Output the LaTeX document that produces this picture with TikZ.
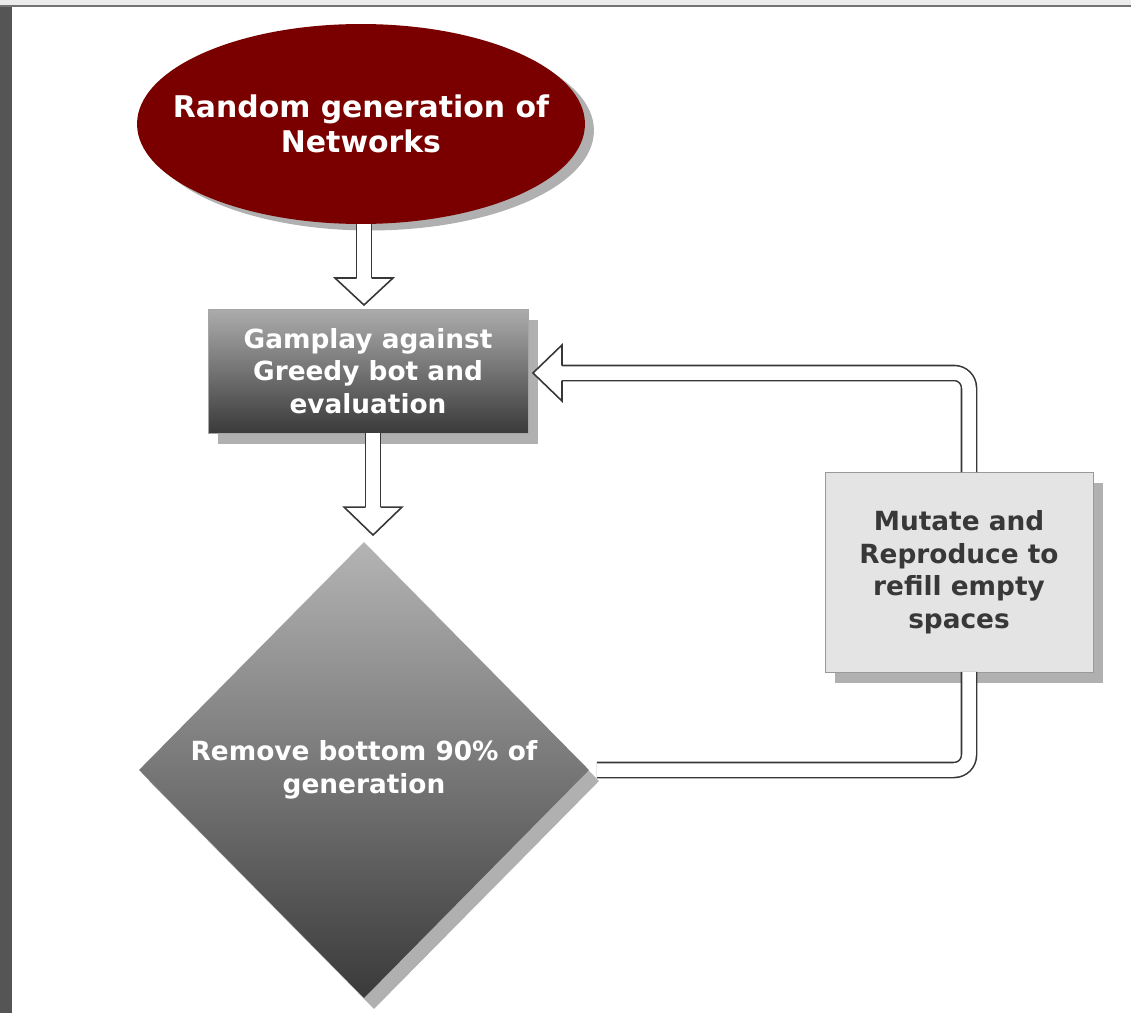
\documentclass[tikz,border=0pt]{standalone}
\usepackage{fontspec}
\newfontfamily\dejavu{DejaVu Sans}
\usepackage{tikz}
\usetikzlibrary{shapes.geometric, shadows, calc}
\usepackage{xcolor}

\definecolor{maroonfill}{RGB}{122,0,0}
\definecolor{shadowgray}{RGB}{176,176,176}
\definecolor{pipegray}{RGB}{55,55,55}
\definecolor{boxtop}{RGB}{172,172,172}
\definecolor{boxbottom}{RGB}{58,58,58}
\definecolor{lightbox}{RGB}{228,228,228}
\definecolor{stripgray}{RGB}{85,85,85}

\begin{document}
\begin{tikzpicture}[
        x=0.02cm, y=-0.02cm,
        flowtext/.style={
          font=\dejavu\bfseries\fontsize{15}{18.5}\selectfont,
          align=center,
          inner sep=0pt,
          outer sep=0pt
        },
        boxshadow/.style={
          drop shadow={shadow xshift=0.2cm, shadow yshift=-0.22cm, fill=shadowgray, opacity=1}
        },
        startnode/.style={
          flowtext,
          ellipse,
          inner xsep=-0.65cm,
          minimum width=8.96cm,
          minimum height=4cm,
          fill=maroonfill,
          text=white,
          font=\dejavu\bfseries\fontsize{17}{20}\selectfont,
          drop shadow={shadow xshift=0.18cm, shadow yshift=-0.13cm, fill=shadowgray, opacity=1}
        },
        playbox/.style={
          flowtext,
          rectangle,
          minimum width=6.4cm,
          minimum height=2.48cm,
          top color=boxtop,
          bottom color=boxbottom,
          draw=gray!70,
          text=white,
          boxshadow
        },
        cutnode/.style={
          flowtext,
          diamond,
          minimum width=9cm,
          minimum height=9.12cm,
          top color=boxtop!90!white,
          bottom color=boxbottom,
          text=white,
          boxshadow
        },
        mutbox/.style={
          flowtext,
          rectangle,
          minimum width=5.36cm,
          minimum height=4cm,
          fill=lightbox,
          draw=gray!80,
          text=black!78,
          boxshadow
        },
        pipe/.style={
          draw=pipegray,
          line width=0.9pt,
          double=white,
          double distance=0.27cm,
          rounded corners=0.3cm
        },
        head/.style={
          draw=pipegray,
          fill=white,
          line width=0.9pt,
          line join=miter
        }
      ]

      \useasboundingbox (0,0) rectangle (1131,1013);

      % Frame
      \fill[gray!15] (0,0) rectangle (1131,5);
      \fill[gray!110] (0,5) rectangle (1131,7.5);
      \fill[stripgray] (0,7.5) rectangle (12,1013);

      % Steps
      \node[startnode] (ell) at (361,124) {Random generation of\\Networks};
      \node[playbox] (gam) at (368,371) {Gamplay against\\Greedy bot and\\evaluation};
      \node[cutnode] (diam) at (364,770) {Remove bottom 90\% of\\generation};
      \node[mutbox] (mut) at (959,572) {Mutate and\\Reproduce to\\refill empty\\spaces};

      % Arrow tips
      \coordinate (t1) at ($(gam.north)+(-4,-4)$);
      \coordinate (t2) at ($(diam.north)+(9,-7)$);
      \coordinate (t3) at ($(gam.east)+(5,2)$);

      % Down arrows
      \draw[pipe] (t1 |- ell.south) -- ($(t1)+(0,-27)$);
      \filldraw[head, shift={(t1)}] (-7.5,-27) -- (-29,-27) -- (0,0) -- (29,-27) -- (7.5,-27);
      \draw[pipe] (t2 |- gam.south) -- ($(t2)+(0,-28)$);
      \filldraw[head, shift={(t2)}] (-7.5,-28) -- (-29,-28) -- (0,0) -- (29,-28) -- (7.5,-28);

      % Loop back
      \draw[pipe] ($(diam.east)+(8,0)$) -| ($(mut.south)+(10,0)$);
      \draw[pipe] ($(mut.north)+(10,0)$) |- ($(t3)+(29,0)$);
      \filldraw[head, shift={(t3)}] (29,-7.5) -- (29,-28) -- (0,0) -- (29,28) -- (29,7.5);

    \end{tikzpicture}
\end{document}
